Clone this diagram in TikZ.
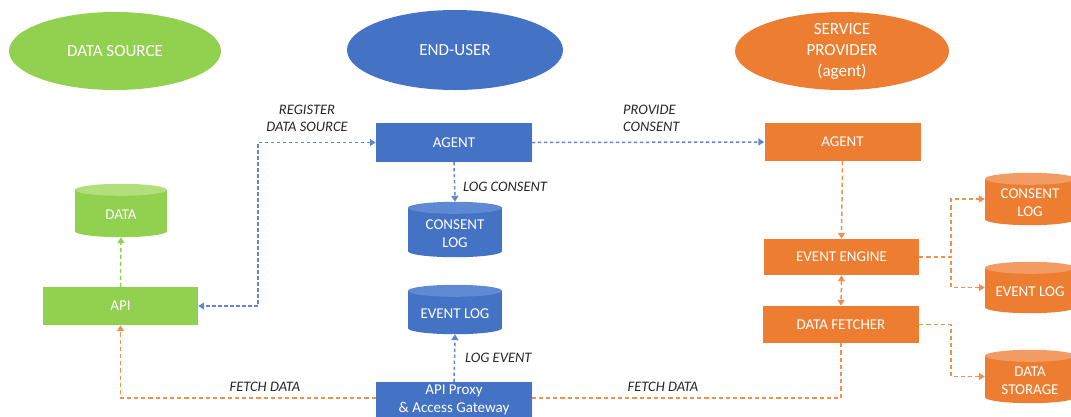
\documentclass[tikz,border=0pt]{standalone}
\usepackage{fontspec}
\setmainfont{Carlito}
\usetikzlibrary{arrows.meta,calc,shapes.geometric}

\definecolor{dsgreen}{HTML}{92D050}
\definecolor{dsgreenlt}{HTML}{B2DF7C}
\definecolor{eublue}{HTML}{4472C4}
\definecolor{eubluelt}{HTML}{5F89D2}
\definecolor{sporange}{HTML}{ED7D31}
\definecolor{sporangelt}{HTML}{F29B63}
\definecolor{labelgray}{HTML}{262626}

\tikzset{
  actor/.style={ellipse, draw=none, text=white, inner sep=0pt,
    font=\fontsize{17}{22}\selectfont},
  actortext/.style={text=white, align=center, inner sep=0pt,
    font=\fontsize{17}{21}\selectfont},
  box/.style={rectangle, draw=none, text=white, inner sep=0pt, align=center,
    minimum width=156pt, minimum height=38pt, font=\fontsize{15}{19}\selectfont},
  dbframe/.style={rectangle, draw=none, inner sep=0pt},
  celltext/.style={text=white, align=center, inner sep=0pt,
    font=\fontsize{15}{18}\selectfont},
  flowlabel/.style={text=labelgray, align=center, inner sep=0pt,
    font=\fontsize{14.5}{17}\selectfont\itshape},
  tip/.tip={Triangle[length=6pt,width=7pt]},
  bluelink/.style={draw=eublue!85, line width=1.5pt, dash pattern=on 3.2pt off 2.8pt},
  orangelink/.style={draw=sporange!85, line width=1.5pt, dash pattern=on 4.2pt off 3pt},
  greenlink/.style={draw=dsgreen, line width=1.5pt, dash pattern=on 4pt off 3pt},
}

% database cylinder: name, x, y, width, height, body colour, top colour, text
\newcommand\dbcyl[8]{%
  \node[dbframe, minimum width=#4pt, minimum height=#5pt] (#1) at (#2,#3) {};
  \fill[#6] ($(#1.north west)+(0pt,-6pt)$) rectangle ($(#1.south east)+(0pt,6pt)$);
  \fill[#6] ($(#1.south)+(0pt,6pt)$) ellipse [x radius=#4pt/2, y radius=6pt];
  \fill[#7] ($(#1.north)+(0pt,-6pt)$) ellipse [x radius=#4pt/2, y radius=6pt];
  \node[celltext] (#1text) at ($(#1.center)+(0pt,-4pt)$) {#8};
}

\begin{document}
\begin{tikzpicture}[x=1pt, y=-1pt]
\useasboundingbox (0,0) rectangle (1071,416);
\clip (0,0) rectangle (1071,416);

% the three parties
\node[actor, fill=dsgreen, minimum width=212pt, minimum height=78pt] (dsrc) at (115,51) {DATA SOURCE};
\node[actor, fill=eublue, minimum width=216pt, minimum height=80pt] (enduser) at (455,50) {END-USER};
\node[actor, fill=sporange, minimum width=214pt, minimum height=78pt] (provider) at (842,51) {};
\node[actortext] (providertext) at (842,51) {SERVICE\\PROVIDER\\(agent)};

% process boxes
\node[box, fill=dsgreen, minimum width=155pt] (api) at (120.5,306) {API};
\node[box, fill=eublue, minimum height=39pt] (uagent) at (454,142.5) {AGENT};
\node[box, fill=eublue, minimum height=41pt] (proxy) at (454,402.5) {};
\node[box, fill=none, font=\fontsize{15}{18}\selectfont] (proxytext) at (454,399.5) {API Proxy\\\& Access Gateway};
\node[box, fill=sporange] (pagent) at (842.5,142) {AGENT};
\node[box, fill=sporange, minimum width=155pt, minimum height=36pt] (engine) at (841.5,257) {EVENT ENGINE};
\node[box, fill=sporange, minimum width=156pt, minimum height=37pt] (fetcher) at (841,324.5) {DATA FETCHER};

% stores
\dbcyl{data}{121}{210.5}{92}{53}{dsgreen}{dsgreenlt}{DATA}
\dbcyl{ulog}{455}{229.5}{94}{55}{eublue}{eubluelt}{CONSENT\\LOG}
\dbcyl{uevents}{455}{309.5}{94}{49}{eublue}{eubluelt}{EVENT LOG}
\dbcyl{pconsent}{1030}{199}{90}{52}{sporange}{sporangelt}{CONSENT\\LOG}
\dbcyl{pevents}{1030}{287.5}{90}{51}{sporange}{sporangelt}{EVENT LOG}
\dbcyl{pstore}{1030}{376.5}{90}{53}{sporange}{sporangelt}{DATA\\STORAGE}

% routing helpers
\coordinate (regx) at (258,0);
\coordinate (fanx) at (951,0);
\coordinate (fetchy) at (0,398);

% end-user flows
\draw[bluelink, tip-tip] (uagent.west) -- (uagent.west -| regx) -- (api.east -| regx) -- (api.east);
\draw[bluelink, -tip] (uagent.east) -- (pagent.west);
\draw[bluelink, -tip] (uagent.south) -- (ulog.north);
\draw[bluelink, -tip] (proxy.north) -- (uevents.south);

% data source flow
\draw[greenlink, -tip] (api.north) -- (data.south);

% service provider flows
\draw[orangelink, -tip] (pagent.south) -- (engine.north);
\draw[orangelink, tip-tip] (engine.south) -- (fetcher.north);
\draw[orangelink, -tip] (engine.east) -| (fanx |- pconsent.west) -- (pconsent.west);
\draw[orangelink, -tip] (engine.east) -| (fanx |- pevents.west) -- (pevents.west);
\draw[orangelink, -tip] (fetcher.east) -| (fanx |- pstore.west) -- (pstore.west);
\draw[orangelink] (fetcher.south) |- (proxy.east |- fetchy);
\draw[orangelink, -tip] (proxy.west |- fetchy) -| (api.south);

% flow labels
\node[flowlabel] (lregister) at (307,118) {REGISTER\\DATA SOURCE};
\node[flowlabel, anchor=west, align=left] (lprovide) at (623,118) {PROVIDE\\CONSENT};
\node[flowlabel, anchor=west] (llogconsent) at (463,187) {LOG CONSENT};
\node[flowlabel, anchor=west] (llogevent) at (465,358) {LOG EVENT};
\node[flowlabel] (lfetchleft) at (265,387) {FETCH DATA};
\node[flowlabel] (lfetchright) at (663,387) {FETCH DATA};
\end{tikzpicture}
\end{document}
